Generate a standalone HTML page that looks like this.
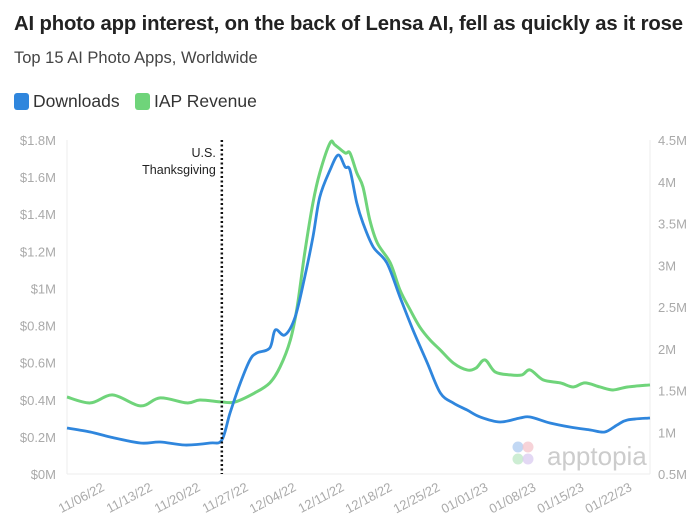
<!DOCTYPE html>
<html><head><meta charset="utf-8"><style>
body{margin:0;background:#fff;width:700px;height:528px;overflow:hidden;font-family:"Liberation Sans",sans-serif}
#title{position:absolute;left:14px;top:13px;font-size:20.3px;font-weight:bold;color:#222;letter-spacing:-0.15px}
#sub{position:absolute;left:14px;top:49px;font-size:16.5px;color:#444}
.leg{position:absolute;top:91px;font-size:17.5px;color:#333;display:flex;align-items:center}
.sw{width:15px;height:17px;border-radius:3px;margin-right:4px;display:inline-block}
</style></head><body>
<div id="title">AI photo app interest, on the back of Lensa AI, fell as quickly as it rose</div>
<div id="sub">Top 15 AI Photo Apps, Worldwide</div>
<div class="leg" style="left:14px"><span class="sw" style="background:#2f86dd"></span>Downloads</div>
<div class="leg" style="left:135px"><span class="sw" style="background:#6fd47a"></span>IAP Revenue</div>
<svg id="chart" width="700" height="528" style="position:absolute;left:0;top:0"></svg>
<script>
const revDays=[0,3.4,6.7,10.7,13.6,17.5,19.4,22.6,24.5,27.4,29.6,31.1,32.6,33.6,34.7,35.9,36.9,38.4,39.1,40.6,41.3,42.3,43.2,44.2,45.3,47.2,48.6,50.1,51.5,53,54.5,56.4,58.4,59.7,61,62.5,64.7,66.4,67.6,69.5,72,73.9,75.6,77.8,79.7,81.8,85.1];
const revenue=[0.415,0.383,0.426,0.367,0.41,0.383,0.399,0.388,0.388,0.437,0.491,0.577,0.722,0.9,1.191,1.461,1.623,1.784,1.774,1.73,1.73,1.623,1.547,1.369,1.245,1.137,0.992,0.884,0.792,0.722,0.668,0.598,0.561,0.571,0.615,0.55,0.534,0.534,0.561,0.507,0.491,0.469,0.491,0.469,0.453,0.469,0.48];
const dlDays=[0,3.4,6.3,10.7,13.6,17.2,20.9,22.6,23.8,25.3,26.7,27.7,29.6,30.4,31.8,33.3,34.7,35.9,36.9,38.4,39.6,40.6,41.3,42.3,43.2,44.7,46.7,48.6,50.5,52.6,54.5,56.4,58.4,60.3,63.2,66.1,67.6,70.5,73.4,76.4,78.5,80.3,81.8,85.1];
const downloads=[1.051,1.003,0.943,0.871,0.883,0.847,0.871,0.907,1.231,1.59,1.865,1.949,2.009,2.225,2.165,2.38,2.859,3.338,3.817,4.141,4.32,4.177,4.141,3.746,3.506,3.219,3.027,2.62,2.225,1.829,1.47,1.35,1.266,1.183,1.123,1.171,1.183,1.111,1.063,1.027,1.003,1.087,1.147,1.171];
const leftTicks=[0,0.2,0.4,0.6,0.8,1,1.2,1.4,1.6,1.8];
const leftLabels=["$0M","$0.2M","$0.4M","$0.6M","$0.8M","$1M","$1.2M","$1.4M","$1.6M","$1.8M"];
const rightTicks=[0.5,1,1.5,2,2.5,3,3.5,4,4.5];
const rightLabels=["0.5M","1M","1.5M","2M","2.5M","3M","3.5M","4M","4.5M"];
const xTickDays=[5,12,19,26,33,40,47,54,61,68,75,82];
const xTickLabels=["11/06/22","11/13/22","11/20/22","11/27/22","12/04/22","12/11/22","12/18/22","12/25/22","01/01/23","01/08/23","01/15/23","01/22/23"];
const thanksgivingDay=22.6;
const X0=67,X1=650,Y0=474,Y1=140,DMAX=85.1;
const x=d=>X0+d*(X1-X0)/DMAX;
const yL=v=>Y0-v/1.8*(Y0-Y1);
const yR=v=>Y0-(v-0.5)/4*(Y0-Y1);
const svg=document.getElementById('chart');const NS='http://www.w3.org/2000/svg';
function mk(t,a){const e=document.createElementNS(NS,t);for(const k in a)e.setAttribute(k,a[k]);svg.appendChild(e);return e;}
let e;
e=mk('line',{x1:X0,y1:Y1,x2:X0,y2:Y0,stroke:'#eee'});


e=mk('line',{x1:X1,y1:Y1,x2:X1,y2:Y0,stroke:'#eee'});


e=mk('line',{x1:X0,y1:Y0,x2:X1,y2:Y0,stroke:'#eee'});


leftTicks.forEach((v,i)=>{const t=mk('text',{x:56,y:yL(v)+5,'text-anchor':'end','font-size':13,fill:'#aaa'});t.textContent=leftLabels[i];

});
rightTicks.forEach((v,i)=>{const t=mk('text',{x:658,y:yR(v)+5,'font-size':13,fill:'#aaa'});t.textContent=rightLabels[i];

});
xTickDays.forEach((d,i)=>{const xx=x(d);const t=mk('text',{x:xx+4,y:Y0+16,'text-anchor':'end','font-size':13,fill:'#aaa',transform:`rotate(-28 ${xx+4} ${Y0+16})`});t.textContent=xTickLabels[i];

});
function path(ds,vs,f){const p=ds.map((d,i)=>[x(d),f(vs[i])]);let s=`M${p[0][0]},${p[0][1]}`;
for(let i=0;i<p.length-1;i++){const a=p[Math.max(0,i-1)],b=p[i],c=p[i+1],d=p[Math.min(p.length-1,i+2)];
s+=`C${b[0]+(c[0]-a[0])/6},${b[1]+(c[1]-a[1])/6} ${c[0]-(d[0]-b[0])/6},${c[1]-(d[1]-b[1])/6} ${c[0]},${c[1]}`;}return s;}
const wm=mk('text',{x:547,y:465,'font-size':26,fill:'#ccc'});wm.textContent='apptopia';


[['#a8c8f0',518,447],['#f3c0c8',528,447],['#b8e6c0',518,459],['#d7c8f0',528,459]].forEach(c=>{const r=mk('circle',{cx:c[1],cy:c[2],r:5.5,fill:c[0],opacity:0.7});

});
e=mk('path',{d:path(revDays,revenue,yL),fill:'none',stroke:'#6fd47a','stroke-width':3,'stroke-linejoin':'round'});


e=mk('path',{d:path(dlDays,downloads,yR),fill:'none',stroke:'#2f86dd','stroke-width':2.8,'stroke-linejoin':'round'});


const tx=x(thanksgivingDay);
e=mk('line',{x1:tx,y1:140,x2:tx,y2:Y0,stroke:'#111','stroke-width':2.5,'stroke-dasharray':'2 2.5'});


e=mk('text',{x:tx-6,y:157,'text-anchor':'end','font-size':12.5,fill:'#222'});e.textContent='U.S.';


e=mk('text',{x:tx-6,y:174,'text-anchor':'end','font-size':12.5,fill:'#222'});e.textContent='Thanksgiving';


</script>
</body></html>
